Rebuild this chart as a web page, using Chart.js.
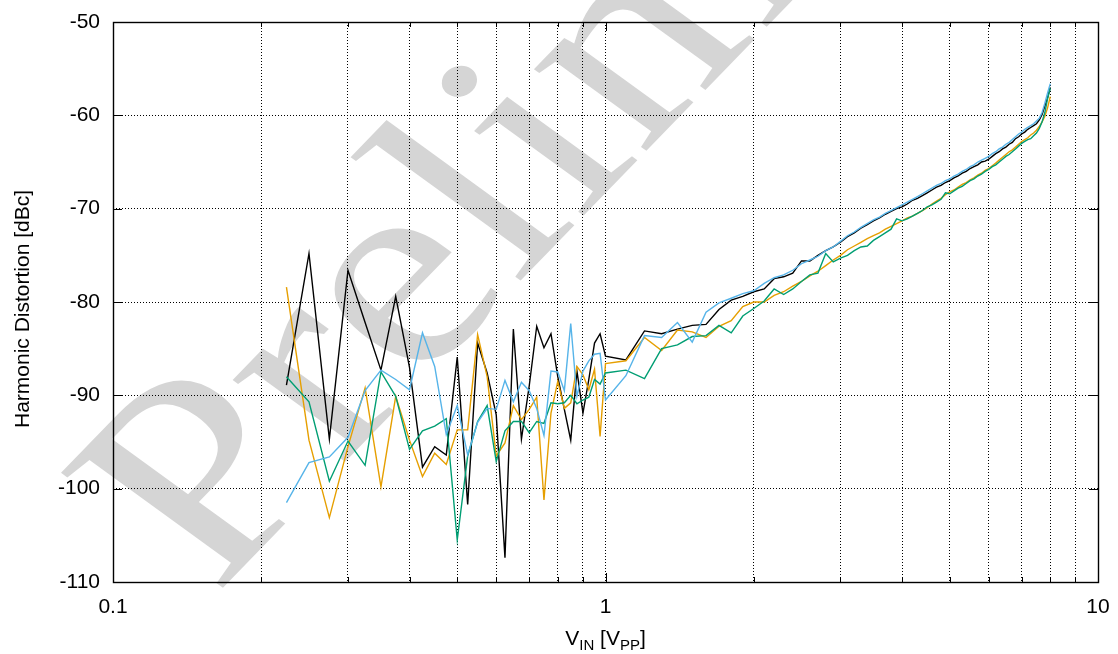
<!DOCTYPE html>
<html>
<head>
<meta charset="utf-8">
<title>Harmonic Distortion vs VIN</title>
<script src="https://cdn.jsdelivr.net/npm/chart.js@4.4.1/dist/chart.umd.min.js"></script>
<style>
    html, body { margin: 0; padding: 0; background: #fff; }
    #wrap { width: 1118px; height: 654px; }
</style>
</head>
<body>
<div id="wrap"><canvas id="hd" width="1118" height="654"></canvas></div>
<script>
(function() {
    'use strict';

    // Input amplitude [Vpp]
    var vin = [
        0.225, 0.25, 0.275, 0.3, 0.325, 0.35, 0.375, 0.4, 0.425, 0.45, 0.475, 0.5,
        0.525, 0.55, 0.575, 0.6, 0.625, 0.65, 0.675, 0.7, 0.725, 0.75, 0.775, 0.8,
        0.825, 0.85, 0.875, 0.9, 0.925, 0.95, 0.975, 1.0,
        1.1, 1.2, 1.3, 1.4, 1.5, 1.6, 1.7, 1.8, 1.9, 2.0,
        2.1, 2.2, 2.3, 2.4, 2.5, 2.6, 2.7, 2.8, 2.9, 3.0,
        3.1, 3.2, 3.3, 3.4, 3.5, 3.6, 3.7, 3.8, 3.9, 4.0,
        4.1, 4.2, 4.3, 4.4, 4.5, 4.6, 4.7, 4.8, 4.9, 5.0,
        5.1, 5.2, 5.3, 5.4, 5.5, 5.6, 5.7, 5.8, 5.9, 6.0,
        6.1, 6.2, 6.3, 6.4, 6.5, 6.6, 6.7, 6.8, 6.9, 7.0,
        7.1, 7.2, 7.3, 7.4, 7.5, 7.6, 7.7, 7.8, 7.9, 8.0
    ];

    // Harmonic distortion [dBc], one array per trace
    var hdBlack = [
        -88.9, -74.8, -94.7, -76.6, -82.2, -87.3, -79.4, -87.0, -97.7, -95.5, -96.4, -85.9,
        -101.7, -84.4, -87.6, -92.1, -107.4, -82.9, -94.7, -89.0, -82.6, -84.9, -83.4, -88.0,
        -91.5, -94.8, -87.4, -91.9, -88.3, -84.4, -83.4, -85.8,
        -86.2, -83.1, -83.4, -82.9, -82.5, -82.4, -80.8, -79.8, -79.4, -78.9,
        -78.6, -77.5, -77.3, -76.9, -75.6, -75.6, -75.0, -74.5, -74.1, -73.6,
        -73.0, -72.6, -72.1, -71.7, -71.3, -71.0, -70.6, -70.3, -70.0, -69.8,
        -69.5, -69.1, -68.9, -68.6, -68.3, -68.0, -67.7, -67.5, -67.2, -67.0,
        -66.7, -66.5, -66.2, -66.0, -65.7, -65.5, -65.3, -65.0, -64.9, -64.7,
        -64.4, -64.1, -63.9, -63.6, -63.4, -63.1, -62.9, -62.5, -62.3, -62.0,
        -61.8, -61.5, -61.3, -61.1, -60.9, -60.5, -59.9, -59.0, -58.1, -57.0
    ];
    var hdOrange = [
        -78.4, -94.8, -103.1, -95.5, -89.2, -99.8, -90.1, -94.8, -98.7, -96.2, -97.4, -93.7,
        -93.7, -83.5, -88.0, -96.5, -95.1, -91.1, -92.6, -91.5, -90.2, -101.2, -91.9, -88.5,
        -91.4, -90.8, -86.9, -87.8, -89.4, -87.2, -94.4, -86.6,
        -86.3, -83.8, -85.2, -83.0, -83.2, -83.8, -82.6, -82.0, -80.5, -80.0,
        -80.0, -79.3, -78.9, -78.3, -77.8, -77.2, -76.7, -76.1, -75.5, -75.0,
        -74.4, -74.0, -73.6, -73.2, -72.9, -72.6, -72.2, -71.9, -71.6, -71.3,
        -71.0, -70.8, -70.5, -70.2, -69.9, -69.5, -69.2, -68.9, -68.5, -68.2,
        -68.0, -67.7, -67.4, -67.2, -66.9, -66.7, -66.4, -66.2, -65.9, -65.7,
        -65.4, -65.1, -64.8, -64.5, -64.2, -63.9, -63.7, -63.4, -63.1, -62.8,
        -62.6, -62.4, -62.1, -61.9, -61.6, -61.2, -60.7, -60.1, -59.2, -58.0
    ];
    var hdGreen = [
        -88.0, -90.7, -99.2, -94.9, -97.5, -87.5, -90.1, -95.8, -93.8, -93.3, -92.5, -105.5,
        -96.5, -92.8, -91.1, -97.1, -93.8, -92.8, -92.8, -94.0, -92.8, -93.0, -90.8, -90.9,
        -90.8, -90.0, -90.9, -90.5, -90.2, -88.3, -88.8, -87.6,
        -87.3, -88.2, -85.0, -84.6, -83.7, -83.6, -82.5, -83.3, -81.5, -80.7,
        -79.9, -78.6, -79.2, -78.6, -77.8, -77.1, -76.9, -74.8, -75.7, -75.3,
        -75.0, -74.5, -74.1, -74.0, -73.4, -73.0, -72.6, -72.2, -71.1, -71.3,
        -71.1, -70.8, -70.5, -70.2, -69.8, -69.6, -69.3, -69.0, -68.3, -68.4,
        -68.1, -67.8, -67.6, -67.3, -67.0, -66.8, -66.5, -66.3, -66.0, -65.8,
        -65.5, -65.3, -65.0, -64.7, -64.4, -64.2, -63.9, -63.6, -63.3, -63.0,
        -62.8, -62.6, -62.5, -62.2, -61.9, -61.4, -60.7, -59.7, -58.2, -57.1
    ];
    var hdBlue = [
        -101.5, -97.2, -96.6, -94.5, -89.5, -87.3, -88.3, -89.4, -83.3, -86.9, -94.2, -91.1,
        -96.4, -92.9, -91.4, -91.5, -88.4, -90.7, -88.6, -89.5, -91.4, -94.3, -87.4, -87.5,
        -89.5, -82.3, -90.1, -87.4, -86.3, -85.6, -85.5, -90.5,
        -87.9, -83.6, -83.8, -82.2, -84.3, -81.1, -80.1, -79.6, -79.1, -78.8,
        -78.0, -77.4, -77.1, -76.6, -75.9, -75.5, -75.1, -74.5, -74.1, -73.5,
        -72.9, -72.5, -72.0, -71.6, -71.2, -70.9, -70.5, -70.2, -69.9, -69.6,
        -69.3, -69.0, -68.7, -68.4, -68.1, -67.8, -67.5, -67.3, -67.0, -66.8,
        -66.5, -66.3, -66.0, -65.8, -65.5, -65.3, -65.0, -64.8, -64.6, -64.4,
        -64.1, -63.9, -63.6, -63.4, -63.1, -62.9, -62.6, -62.3, -62.0, -61.8,
        -61.5, -61.3, -61.1, -60.9, -60.6, -60.3, -59.7, -58.7, -57.6, -56.6
    ];

    // Axis ticks
    var vinTicks = [0.1, 0.2, 0.3, 0.4, 0.5, 0.6, 0.7, 0.8, 0.9,
                    1, 2, 3, 4, 5, 6, 7, 8, 9, 10];
    var vinLabels = [0.1, 1, 10];
    var hdTicks = [-110, -100, -90, -80, -70, -60, -50];

    var FONT = "'Liberation Sans', Arial, Helvetica, sans-serif";

    function pairs(ys) {
        return vin.map(function(v, i) { return { x: v, y: ys[i] }; });
    }

    function trace(ys, color, order) {
        return {
            data: pairs(ys),
            borderColor: color,
            borderWidth: 1.4,
            pointRadius: 0,
            tension: 0,
            fill: false,
            order: order
        };
    }

    function isLabel(v) {
        return vinLabels.some(function(l) { return Math.abs(l - v) < 1e-9; });
    }

    // Keep the plot box fixed: no extra room for overhanging labels
    function fixBox(size, prop) {
        return function(scale) {
            scale[prop] = size;
            scale.paddingLeft = 0;
            scale.paddingRight = 0;
            scale.paddingTop = 0;
            scale.paddingBottom = 0;
        };
    }

    // White page plus the slanted watermark behind everything
    var watermark = {
        id: 'watermark',
        beforeDraw: function(chart) {
            var ctx = chart.ctx;
            ctx.save();
            ctx.fillStyle = '#fff';
            ctx.fillRect(0, 0, chart.width, chart.height);
            ctx.setTransform(0.753, -0.777, 0.817, 0.593, 215, 596);
            ctx.font = "300px 'Liberation Serif', 'Times New Roman', serif";
            ctx.fillStyle = '#d5d5d5';
            ctx.textBaseline = 'alphabetic';
            ctx.fillText('Preliminary', 0, 0);
            ctx.restore();
        }
    };

    // Border box, inward tick marks and axis titles
    var frame = {
        id: 'frame',
        afterDatasetsDraw: function(chart) {
            var ctx = chart.ctx;
            var a = chart.chartArea;
            var xs = chart.scales.x;
            var ys = chart.scales.y;

            ctx.save();
            ctx.strokeStyle = '#000';
            ctx.lineWidth = 1;
            ctx.beginPath();
            vinTicks.forEach(function(v) {
                var px = Math.round(xs.getPixelForValue(v)) + 0.5;
                var len = isLabel(v) ? 9 : 5;
                ctx.moveTo(px, a.bottom);
                ctx.lineTo(px, a.bottom - len);
                ctx.moveTo(px, a.top);
                ctx.lineTo(px, a.top + len);
            });
            hdTicks.forEach(function(v) {
                var py = Math.round(ys.getPixelForValue(v)) + 0.5;
                ctx.moveTo(a.left, py);
                ctx.lineTo(a.left + 9, py);
                ctx.moveTo(a.right, py);
                ctx.lineTo(a.right - 9, py);
            });
            ctx.stroke();

            ctx.lineWidth = 1.4;
            ctx.strokeRect(a.left + 0.5, a.top + 0.5, a.right - a.left, a.bottom - a.top);
            ctx.restore();
        },
        afterDraw: function(chart) {
            var ctx = chart.ctx;
            ctx.save();
            ctx.fillStyle = '#000';

            // y title
            ctx.translate(23, 309);
            ctx.rotate(-Math.PI / 2);
            ctx.font = '21px ' + FONT;
            ctx.textAlign = 'center';
            ctx.textBaseline = 'middle';
            ctx.fillText('Harmonic Distortion [dBc]', 0, 0);
            ctx.setTransform(1, 0, 0, 1, 0, 0);

            // x title with subscripts: V_IN [V_PP]
            var parts = [
                { t: 'V', sub: false },
                { t: 'IN', sub: true },
                { t: ' [V', sub: false },
                { t: 'PP', sub: true },
                { t: ']', sub: false }
            ];
            var big = '21px ' + FONT;
            var small = '15px ' + FONT;
            var total = 0;
            parts.forEach(function(p) {
                ctx.font = p.sub ? small : big;
                p.w = ctx.measureText(p.t).width;
                total += p.w;
            });
            var cx = chart.scales.x.getPixelForValue(1);
            var x = cx - total / 2;
            var base = 645;
            ctx.textAlign = 'left';
            ctx.textBaseline = 'alphabetic';
            parts.forEach(function(p) {
                ctx.font = p.sub ? small : big;
                ctx.fillText(p.t, x, p.sub ? base + 5 : base);
                x += p.w;
            });
            ctx.restore();
        }
    };

    var gridStyle = {
        color: '#000',
        lineWidth: 1,
        drawTicks: false
    };
    var borderStyle = {
        display: false,
        dash: [1, 2]
    };

    new Chart(document.getElementById('hd'), {
        type: 'line',
        data: {
            datasets: [
                trace(hdBlack, '#000000', 3),
                trace(hdOrange, '#e69f00', 2),
                trace(hdGreen, '#009e73', 1),
                trace(hdBlue, '#56b4e9', 0)
            ]
        },
        options: {
            responsive: false,
            animation: false,
            devicePixelRatio: 1,
            layout: { padding: { left: 0, top: 22, right: 20, bottom: 0 } },
            plugins: {
                legend: { display: false },
                tooltip: { enabled: false }
            },
            scales: {
                x: {
                    type: 'logarithmic',
                    min: 0.1,
                    max: 10,
                    afterBuildTicks: function(scale) {
                        scale.ticks = vinTicks.map(function(v) { return { value: v }; });
                    },
                    afterFit: fixBox(72, 'height'),
                    grid: gridStyle,
                    border: borderStyle,
                    ticks: {
                        autoSkip: false,
                        maxRotation: 0,
                        padding: 13,
                        color: '#000',
                        font: { family: FONT, size: 21 },
                        callback: function(v) { return isLabel(v) ? String(v) : ''; }
                    }
                },
                y: {
                    type: 'linear',
                    min: -110,
                    max: -50,
                    afterBuildTicks: function(scale) {
                        scale.ticks = hdTicks.map(function(v) { return { value: v }; });
                    },
                    afterFit: fixBox(113, 'width'),
                    grid: gridStyle,
                    border: borderStyle,
                    ticks: {
                        padding: 13,
                        color: '#000',
                        font: { family: FONT, size: 21 },
                        callback: function(v) { return String(v); }
                    }
                }
            }
        },
        plugins: [watermark, frame]
    });
})();
</script>
</body>
</html>
